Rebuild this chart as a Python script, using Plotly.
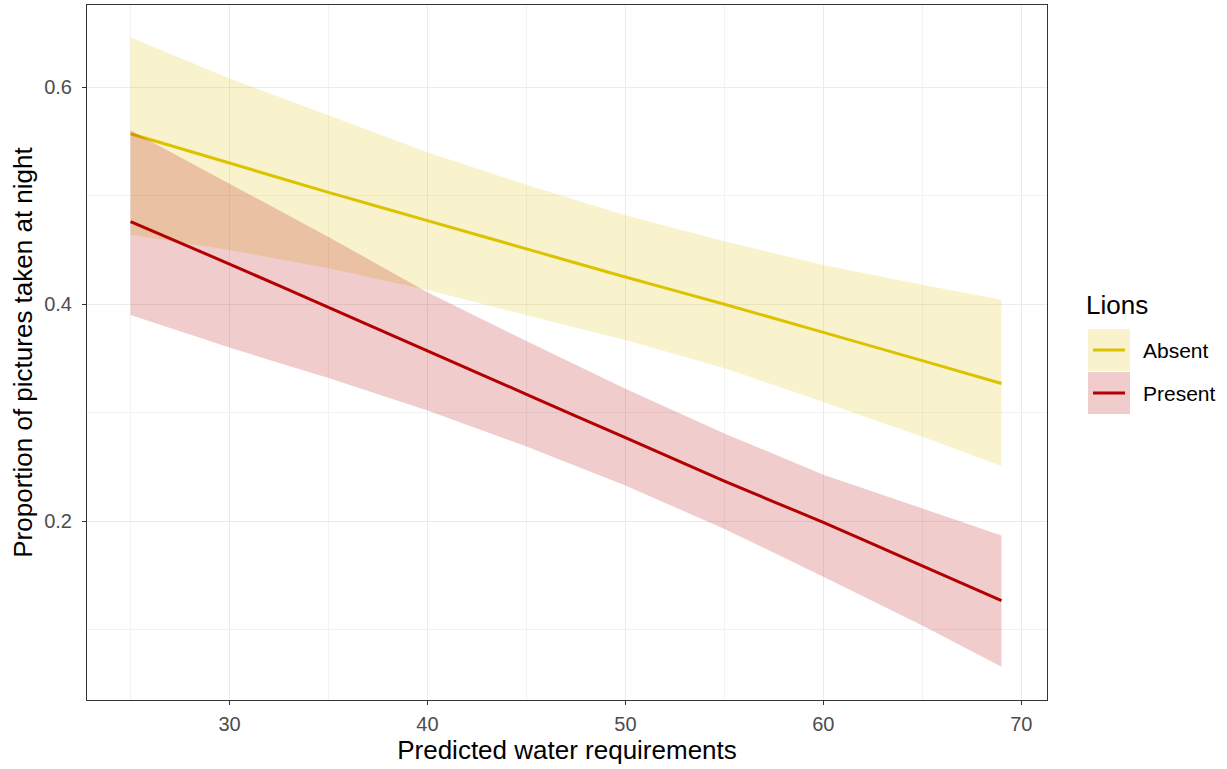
import plotly.graph_objects as go

water = [25, 30, 35, 40, 45, 50, 55, 60, 65, 69]

absent_fit = [0.557, 0.530, 0.503, 0.477, 0.451, 0.425, 0.400, 0.374, 0.348, 0.327]
absent_lo = [0.464, 0.450, 0.433, 0.413, 0.390, 0.367, 0.341, 0.310, 0.278, 0.251]
absent_hi = [0.646, 0.608, 0.574, 0.540, 0.510, 0.482, 0.458, 0.436, 0.418, 0.404]

present_fit = [0.476, 0.437, 0.397, 0.357, 0.317, 0.277, 0.237, 0.199, 0.159, 0.127]
present_lo = [0.390, 0.360, 0.332, 0.302, 0.269, 0.233, 0.193, 0.149, 0.104, 0.066]
present_hi = [0.560, 0.511, 0.462, 0.411, 0.366, 0.322, 0.281, 0.243, 0.212, 0.187]

groups = ["Absent", "Present"]
line_colors = ["#DCC200", "#B30000"]
fill_colors = ["rgba(220,194,0,0.2)", "rgba(179,0,0,0.2)"]

FONT = "Liberation Sans, Arial, sans-serif"

fig = go.Figure()
series = [(absent_fit, absent_lo, absent_hi), (present_fit, present_lo, present_hi)]
for (fit, lo, hi), name, lc, fc in zip(series, groups, line_colors, fill_colors):
    fig.add_trace(go.Scatter(x=water + water[::-1], y=hi + lo[::-1], fill="toself",
                             fillcolor=fc, line=dict(width=0), mode="lines",
                             hoverinfo="skip", showlegend=False))
    fig.add_trace(go.Scatter(x=water, y=fit, mode="lines", name=name,
                             line=dict(color=lc, width=3, shape="spline", smoothing=0.6),
                             showlegend=False))

fig.update_layout(
    width=1227, height=769,
    margin=dict(l=87, r=180, t=5, b=69, autoexpand=False),
    paper_bgcolor="white", plot_bgcolor="white",
    font=dict(family=FONT, color="black"),
)
fig.update_xaxes(
    range=[22.8, 71.3], tick0=0, dtick=10, showline=True, mirror=True,
    linecolor="#333333", linewidth=1, ticks="outside", ticklen=4, tickcolor="#333333",
    tickfont=dict(size=20, color="#4D4D4D", family=FONT), ticklabelstandoff=2,
    gridcolor="#EBEBEB", gridwidth=1, zeroline=False, automargin=False,
    minor=dict(dtick=5, tick0=0, showgrid=True, gridcolor="#F2F2F2", gridwidth=0.6),
    title=dict(text="Predicted water requirements", font=dict(size=26, family=FONT), standoff=2),
)
fig.update_yaxes(
    range=[0.0354, 0.6756], tick0=0, dtick=0.2, tickformat=".1f", showline=True, mirror=True,
    linecolor="#333333", linewidth=1, ticks="outside", ticklen=4, tickcolor="#333333",
    tickfont=dict(size=20, color="#4D4D4D", family=FONT), ticklabelstandoff=6,
    gridcolor="#EBEBEB", gridwidth=1, zeroline=False, automargin=False,
    minor=dict(dtick=0.1, tick0=0, showgrid=True, gridcolor="#F2F2F2", gridwidth=0.6),
    title=dict(text="Proportion of pictures taken at night", font=dict(size=26, family=FONT), standoff=4),
)

def px_x(px):
    return (px - 87) / 960.0

def px_y(py):
    return (700 - py) / 695.0

fig.add_annotation(text="Lions", xref="paper", yref="paper", x=px_x(1084), y=px_y(305),
                   xanchor="left", yanchor="middle", showarrow=False,
                   font=dict(size=26, family=FONT, color="black"))
key_tops = [329, 372]
for i, (name, lc, fc) in enumerate(zip(groups, line_colors, fill_colors)):
    top = key_tops[i]
    bot = top + 42
    fig.add_shape(type="rect", xref="paper", yref="paper", x0=px_x(1088), x1=px_x(1130),
                  y0=px_y(bot), y1=px_y(top), fillcolor=fc, line=dict(width=0), layer="above")
    mid = (top + bot) / 2
    fig.add_shape(type="line", xref="paper", yref="paper", x0=px_x(1093), x1=px_x(1125),
                  y0=px_y(mid), y1=px_y(mid), line=dict(color=lc, width=3), layer="above")
    fig.add_annotation(text=name, xref="paper", yref="paper", x=px_x(1141), y=px_y(mid),
                       xanchor="left", yanchor="middle", showarrow=False,
                       font=dict(size=21, family=FONT, color="black"))

fig.write_html("out.html")
